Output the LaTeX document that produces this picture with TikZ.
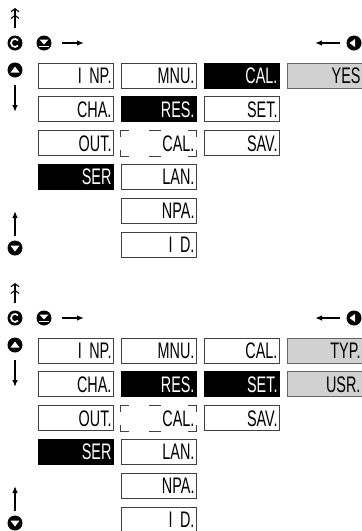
\documentclass[tikz,border=0pt]{standalone}
\usepackage{fontspec}
\setmainfont{Liberation Sans}[FakeStretch=0.64]
\usetikzlibrary{arrows.meta}

\begin{document}
\begin{tikzpicture}[
x=1pt, y=-1pt,
box/.style={
draw=black!75,
line width=0.9pt,
fill=white,
minimum width=75pt,
minimum height=25pt,
text width=72pt,
inner xsep=1.5pt,
inner ysep=2pt,
align=right,
text height=16pt,
text depth=0pt,
font=\fontsize{22.5}{22.5}\selectfont
},
dark/.style={box, fill=black, draw=black, text=white},
lit/.style={box, fill=black!18, draw=black!60},
ghost/.style={box, draw=none, fill=none},
corner/.style={draw=black!75, line width=0.9pt},
key/.style={circle, fill=black, minimum size=15pt, inner sep=0pt},
arr/.style={line width=1.3pt, -{Latex[length=7pt,width=5.5pt]}},
dbl/.style={line width=1.1pt, -{Straight Barb[length=3pt,width=8pt,sep=2.5pt]Straight Barb[length=3pt,width=8pt]}}
]
\useasboundingbox (0,0) rectangle (362,531);

% upper panel
\node[key] (RotA) at (15,43) {};
\node[key] (UpA) at (15,70) {};
\node[key] (DnA) at (44,43) {};
\node[key] (LftA) at (354,43) {};
\node[key] (BackA) at (15,248) {};

\draw[white, line width=1.7pt] (RotA.center) ++(40:4) arc (40:320:4);
\fill[white] ([shift={(-4.5,2.5)}]UpA.center) -- ([shift={(4.5,2.5)}]UpA.center) -- ([shift={(0,-3.5)}]UpA.center) -- cycle;
\fill[white] ([shift={(-4.5,-3.5)}]DnA.center) -- ([shift={(4.5,-3.5)}]DnA.center) -- ([shift={(0,1.5)}]DnA.center) -- cycle;
\draw[white, line width=1.3pt] ([shift={(-5,3.5)}]DnA.center) -- ([shift={(5,3.5)}]DnA.center);
\fill[white] ([shift={(-4.5,0)}]LftA.center) -- ([shift={(1,-4)}]LftA.center) -- ([shift={(1,4)}]LftA.center) -- cycle;
\fill[white] ([shift={(-4.5,-2.5)}]BackA.center) -- ([shift={(4.5,-2.5)}]BackA.center) -- ([shift={(0,3.5)}]BackA.center) -- cycle;

\coordinate (TopA0) at (15,28);
\coordinate (TopA1) at (15,8);
\coordinate (DownA0) at (15,85);
\coordinate (DownA1) at (15,112);
\coordinate (RgtA0) at (62,43);
\coordinate (RgtA1) at (84,43);
\coordinate (LeftA0) at (340,43);
\coordinate (LeftA1) at (315,43);
\coordinate (BotA0) at (15,236);
\coordinate (BotA1) at (15,211);

\draw[dbl] (TopA0) -- (TopA1);
\draw[arr] (DownA0) -- (DownA1);
\draw[arr] (RgtA0) -- (RgtA1);
\draw[arr] (LeftA0) -- (LeftA1);
\draw[arr] (BotA0) -- (BotA1);

\node[box] (InpA) at (75.5,75.5) {I NP.};
\node[box] (ChaA) at (75.5,109.3) {CHA.};
\node[box] (OutA) at (75.5,143.1) {OUT.};
\node[dark] (SerA) at (75.5,176.9) {SER};

\node[box] (MnuA) at (158.5,75.5) {MNU.};
\node[dark] (ResA) at (158.5,109.3) {RES.};
\node[ghost] (CalbA) at (158.5,143.1) {CAL.};
\node[box] (LanA) at (158.5,176.9) {LAN.};
\node[box] (NpaA) at (158.5,210.7) {NPA.};
\node[box] (IdA) at (158.5,244.5) {I D.};

\node[dark] (CalA) at (241.5,75.5) {CAL.};
\node[box] (SetA) at (241.5,109.3) {SET.};
\node[box] (SavA) at (241.5,143.1) {SAV.};

\node[lit] (YesA) at (324.5,75.5) {YES};

\draw[corner] ([shift={(0,7)}]CalbA.north west) -- (CalbA.north west) -- ([shift={(8,0)}]CalbA.north west);
\draw[corner] ([shift={(28,0)}]CalbA.north west) -- ([shift={(40,0)}]CalbA.north west);
\draw[corner] ([shift={(-8,0)}]CalbA.north east) -- (CalbA.north east) -- ([shift={(0,7)}]CalbA.north east);
\draw[corner] ([shift={(0,-6)}]CalbA.south west) -- (CalbA.south west) -- ([shift={(8,0)}]CalbA.south west);
\draw[corner] ([shift={(28,0)}]CalbA.south west) -- ([shift={(40,0)}]CalbA.south west);
\draw[corner] ([shift={(-8,0)}]CalbA.south east) -- (CalbA.south east) -- ([shift={(0,-6)}]CalbA.south east);

% lower panel
\node[key] (RotB) at (15,318) {};
\node[key] (UpB) at (15,345) {};
\node[key] (DnB) at (44,318) {};
\node[key] (LftB) at (354,318) {};
\node[key] (BackB) at (15,523) {};

\draw[white, line width=1.7pt] (RotB.center) ++(40:4) arc (40:320:4);
\fill[white] ([shift={(-4.5,2.5)}]UpB.center) -- ([shift={(4.5,2.5)}]UpB.center) -- ([shift={(0,-3.5)}]UpB.center) -- cycle;
\fill[white] ([shift={(-4.5,-3.5)}]DnB.center) -- ([shift={(4.5,-3.5)}]DnB.center) -- ([shift={(0,1.5)}]DnB.center) -- cycle;
\draw[white, line width=1.3pt] ([shift={(-5,3.5)}]DnB.center) -- ([shift={(5,3.5)}]DnB.center);
\fill[white] ([shift={(-4.5,0)}]LftB.center) -- ([shift={(1,-4)}]LftB.center) -- ([shift={(1,4)}]LftB.center) -- cycle;
\fill[white] ([shift={(-4.5,-2.5)}]BackB.center) -- ([shift={(4.5,-2.5)}]BackB.center) -- ([shift={(0,3.5)}]BackB.center) -- cycle;

\coordinate (TopB0) at (15,303);
\coordinate (TopB1) at (15,283);
\coordinate (DownB0) at (15,360);
\coordinate (DownB1) at (15,387);
\coordinate (RgtB0) at (62,318);
\coordinate (RgtB1) at (84,318);
\coordinate (LeftB0) at (340,318);
\coordinate (LeftB1) at (315,318);
\coordinate (BotB0) at (15,511);
\coordinate (BotB1) at (15,486);

\draw[dbl] (TopB0) -- (TopB1);
\draw[arr] (DownB0) -- (DownB1);
\draw[arr] (RgtB0) -- (RgtB1);
\draw[arr] (LeftB0) -- (LeftB1);
\draw[arr] (BotB0) -- (BotB1);

\node[box] (InpB) at (75.5,350.5) {I NP.};
\node[box] (ChaB) at (75.5,384.3) {CHA.};
\node[box] (OutB) at (75.5,418.1) {OUT.};
\node[dark] (SerB) at (75.5,451.9) {SER};

\node[box] (MnuB) at (158.5,350.5) {MNU.};
\node[dark] (ResB) at (158.5,384.3) {RES.};
\node[ghost] (CalbB) at (158.5,418.1) {CAL.};
\node[box] (LanB) at (158.5,451.9) {LAN.};
\node[box] (NpaB) at (158.5,485.7) {NPA.};
\node[box] (IdB) at (158.5,519.5) {I D.};

\node[box] (CalB) at (241.5,350.5) {CAL.};
\node[dark] (SetB) at (241.5,384.3) {SET.};
\node[box] (SavB) at (241.5,418.1) {SAV.};

\node[lit] (TypB) at (324.5,350.5) {TYP.};
\node[lit] (UsrB) at (324.5,384.3) {USR.};

\draw[corner] ([shift={(0,7)}]CalbB.north west) -- (CalbB.north west) -- ([shift={(8,0)}]CalbB.north west);
\draw[corner] ([shift={(28,0)}]CalbB.north west) -- ([shift={(40,0)}]CalbB.north west);
\draw[corner] ([shift={(-8,0)}]CalbB.north east) -- (CalbB.north east) -- ([shift={(0,7)}]CalbB.north east);
\draw[corner] ([shift={(0,-6)}]CalbB.south west) -- (CalbB.south west) -- ([shift={(8,0)}]CalbB.south west);
\draw[corner] ([shift={(28,0)}]CalbB.south west) -- ([shift={(40,0)}]CalbB.south west);
\draw[corner] ([shift={(-8,0)}]CalbB.south east) -- (CalbB.south east) -- ([shift={(0,-6)}]CalbB.south east);

\end{tikzpicture}
\end{document}
